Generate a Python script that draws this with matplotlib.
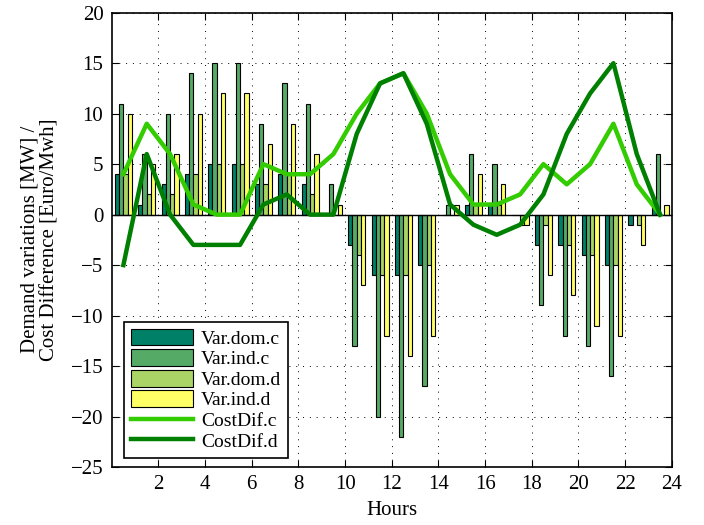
import numpy as np
import matplotlib
matplotlib.use("Agg")
import matplotlib.pyplot as plt

hours = np.arange(24) + 0.5

var_dom_c = [4, 1, 3, 4, 5, 5, 3, 4, 3, 0, -3, -6, -6, -5, 0, 1, 1, 0, -3, -3, -4, -5, -1, 1]
var_ind_c = [11, 6, 10, 14, 15, 15, 9, 13, 11, 3, -13, -20, -22, -17, 1, 6, 5, 0, -9, -12, -13, -16, 0, 6]
var_dom_d = [4, 2, 2, 4, 5, 5, 3, 4, 2, 0, -4, -6, -6, -5, 0, 1, 1, -1, -1, -3, -4, -5, -1, 0]
var_ind_d = [10, 5, 6, 10, 12, 12, 7, 9, 6, 1, -7, -12, -14, -12, 1, 4, 3, -1, -6, -8, -11, -12, -3, 1]
costdif_c = [4, 9, 6, 1, 0, 0, 5, 4, 4, 6, 10, 13, 14, 10, 4, 1, 1, 2, 5, 3, 5, 9, 3, 0]
costdif_d = [-5, 6, 0, -3, -3, -3, 1, 2, 0, 0, 8, 13, 14, 9, 1, -1, -2, -1, 2, 8, 12, 15, 6, 0]

bar_labels = ["Var.dom.c", "Var.ind.c", "Var.dom.d", "Var.ind.d"]
bar_colors = [(0, 0.5, 0.4), (0.333, 0.667, 0.4), (0.667, 0.833, 0.4), (1, 1, 0.4)]

plt.rcParams["font.family"] = ["Liberation Serif", "DejaVu Serif"]
plt.rcParams["font.size"] = 15

fig = plt.figure(figsize=(7.04, 5.25), dpi=100)
ax = fig.add_axes([0.1587, 0.1105, 0.7955, 0.8653])

w = 0.182
series = [var_dom_c, var_ind_c, var_dom_d, var_ind_d]
for i, (vals, lab, col) in enumerate(zip(series, bar_labels, bar_colors)):
    ax.bar(hours + (i - 1.5) * w, vals, w, color=col, edgecolor="black",
           linewidth=0.8, label=lab, zorder=2)

ax.plot(hours, costdif_c, color=(0.2, 0.8, 0.0), lw=3.2, label="CostDif.c", zorder=3)
ax.plot(hours, costdif_d, color=(0.0, 0.5, 0.0), lw=3.2, label="CostDif.d", zorder=3)

ax.axhline(0, color="black", lw=1.0, zorder=2.5)

ax.set_xlim(0, 24)
ax.set_ylim(-25, 20)
ax.set_xticks(np.arange(2, 25, 2))
ax.set_yticks(np.arange(-25, 21, 5))
ax.set_yticklabels([str(v).replace("-", "\u2212") for v in range(-25, 21, 5)])
ax.tick_params(direction="in", top=True, right=True, length=5, width=0.8,
               labelsize=15, pad=6)
ax.grid(True, color="black", linestyle=(0, (1, 6)), linewidth=0.7, zorder=0)
for s in ax.spines.values():
    s.set_linewidth(1.2)

ax.set_xlabel("Hours", fontsize=15, labelpad=5)
ax.set_ylabel("Demand variations [MW] /\nCost Difference [Euro/Mwh]", fontsize=15,
              labelpad=8, linespacing=1.05)

# bars first, then the lines, like the original legend
h, l = ax.get_legend_handles_labels()
order = [2, 3, 4, 5, 0, 1]
leg = ax.legend([h[i] for i in order], [l[i] for i in order],
                loc="lower left", bbox_to_anchor=(0.012, 0.008), fontsize=14,
                handlelength=3.2, handleheight=0.95, labelspacing=0.08,
                fancybox=False, framealpha=1, edgecolor="black",
                borderpad=0.35, handletextpad=0.4, borderaxespad=0.3)
leg.get_frame().set_linewidth(1.2)

fig.savefig("out.png", dpi=100)
